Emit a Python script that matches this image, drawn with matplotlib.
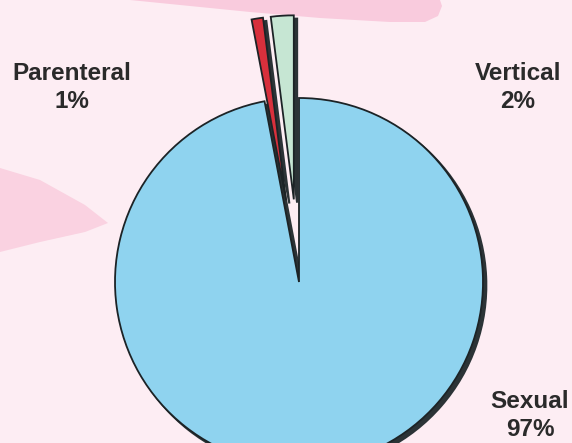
import matplotlib
matplotlib.use("Agg")
import matplotlib.pyplot as plt
from matplotlib.patches import Polygon

categories = ["Sexual", "Parenteral", "Vertical"]
values = [97, 1, 2]
pct_labels = ["97%", "1%", "2%"]
colors = ["#8fd3ef", "#d8303c", "#c6e6d3"]
explode = [0.0, 0.45, 0.45]

W, H = 572, 443
fig = plt.figure(figsize=(W / 100, H / 100), dpi=100)
fig.patch.set_facecolor("#fdedf3")

# background decoration (pixel coords)
bg = fig.add_axes([0, 0, 1, 1])
bg.set_xlim(0, W)
bg.set_ylim(H, 0)
bg.axis("off")
bg.add_patch(Polygon([(130, 0), (190, 6), (250, 12), (320, 18), (390, 22),
                      (425, 22), (438, 16), (442, 6), (440, 0)],
                     closed=True, color="#f9cbdd", lw=0))
bg.add_patch(Polygon([(0, 168), (40, 180), (85, 205), (108, 223), (85, 232),
                      (40, 242), (0, 252)], closed=True, color="#fad2e1", lw=0))

# pie axes: centre at pixel (299, 282), radius 184 px
cx, cy, r = 299, 282, 184
ax = fig.add_axes([0, 0, 1, 1])

# shadow
ax.pie(values, explode=explode, startangle=90, counterclock=False,
       colors=["#2b3336"] * 3, center=(0.018, -0.018),
       wedgeprops=dict(edgecolor="#2b3336", linewidth=1.5))
# main pie
ax.pie(values, explode=explode, startangle=90, counterclock=False,
       colors=colors, wedgeprops=dict(edgecolor="#1c2326", linewidth=1.3))
ax.set_xlim(-cx / r, (W - cx) / r)
ax.set_ylim(-(H - cy) / r, cy / r)
ax.set_aspect("auto")
ax.axis("off")

def px(x, y):
    return ((x - cx) / r, (cy - y) / r)

tkw = dict(fontsize=17.5, fontweight="bold", color="#2a2a2a",
           ha="center", va="center", family="Liberation Sans")
pos = {"Sexual": [(530, 401), (530, 430)],
       "Parenteral": [(72, 74), (72, 102)],
       "Vertical": [(518, 74), (518, 102)]}
for name, pct in zip(categories, pct_labels):
    (x1, y1), (x2, y2) = pos[name]
    ax.text(*px(x1, y1), name, **tkw)
    ax.text(*px(x2, y2), pct, **tkw)

fig.savefig("out.png", dpi=100, facecolor=fig.get_facecolor())
